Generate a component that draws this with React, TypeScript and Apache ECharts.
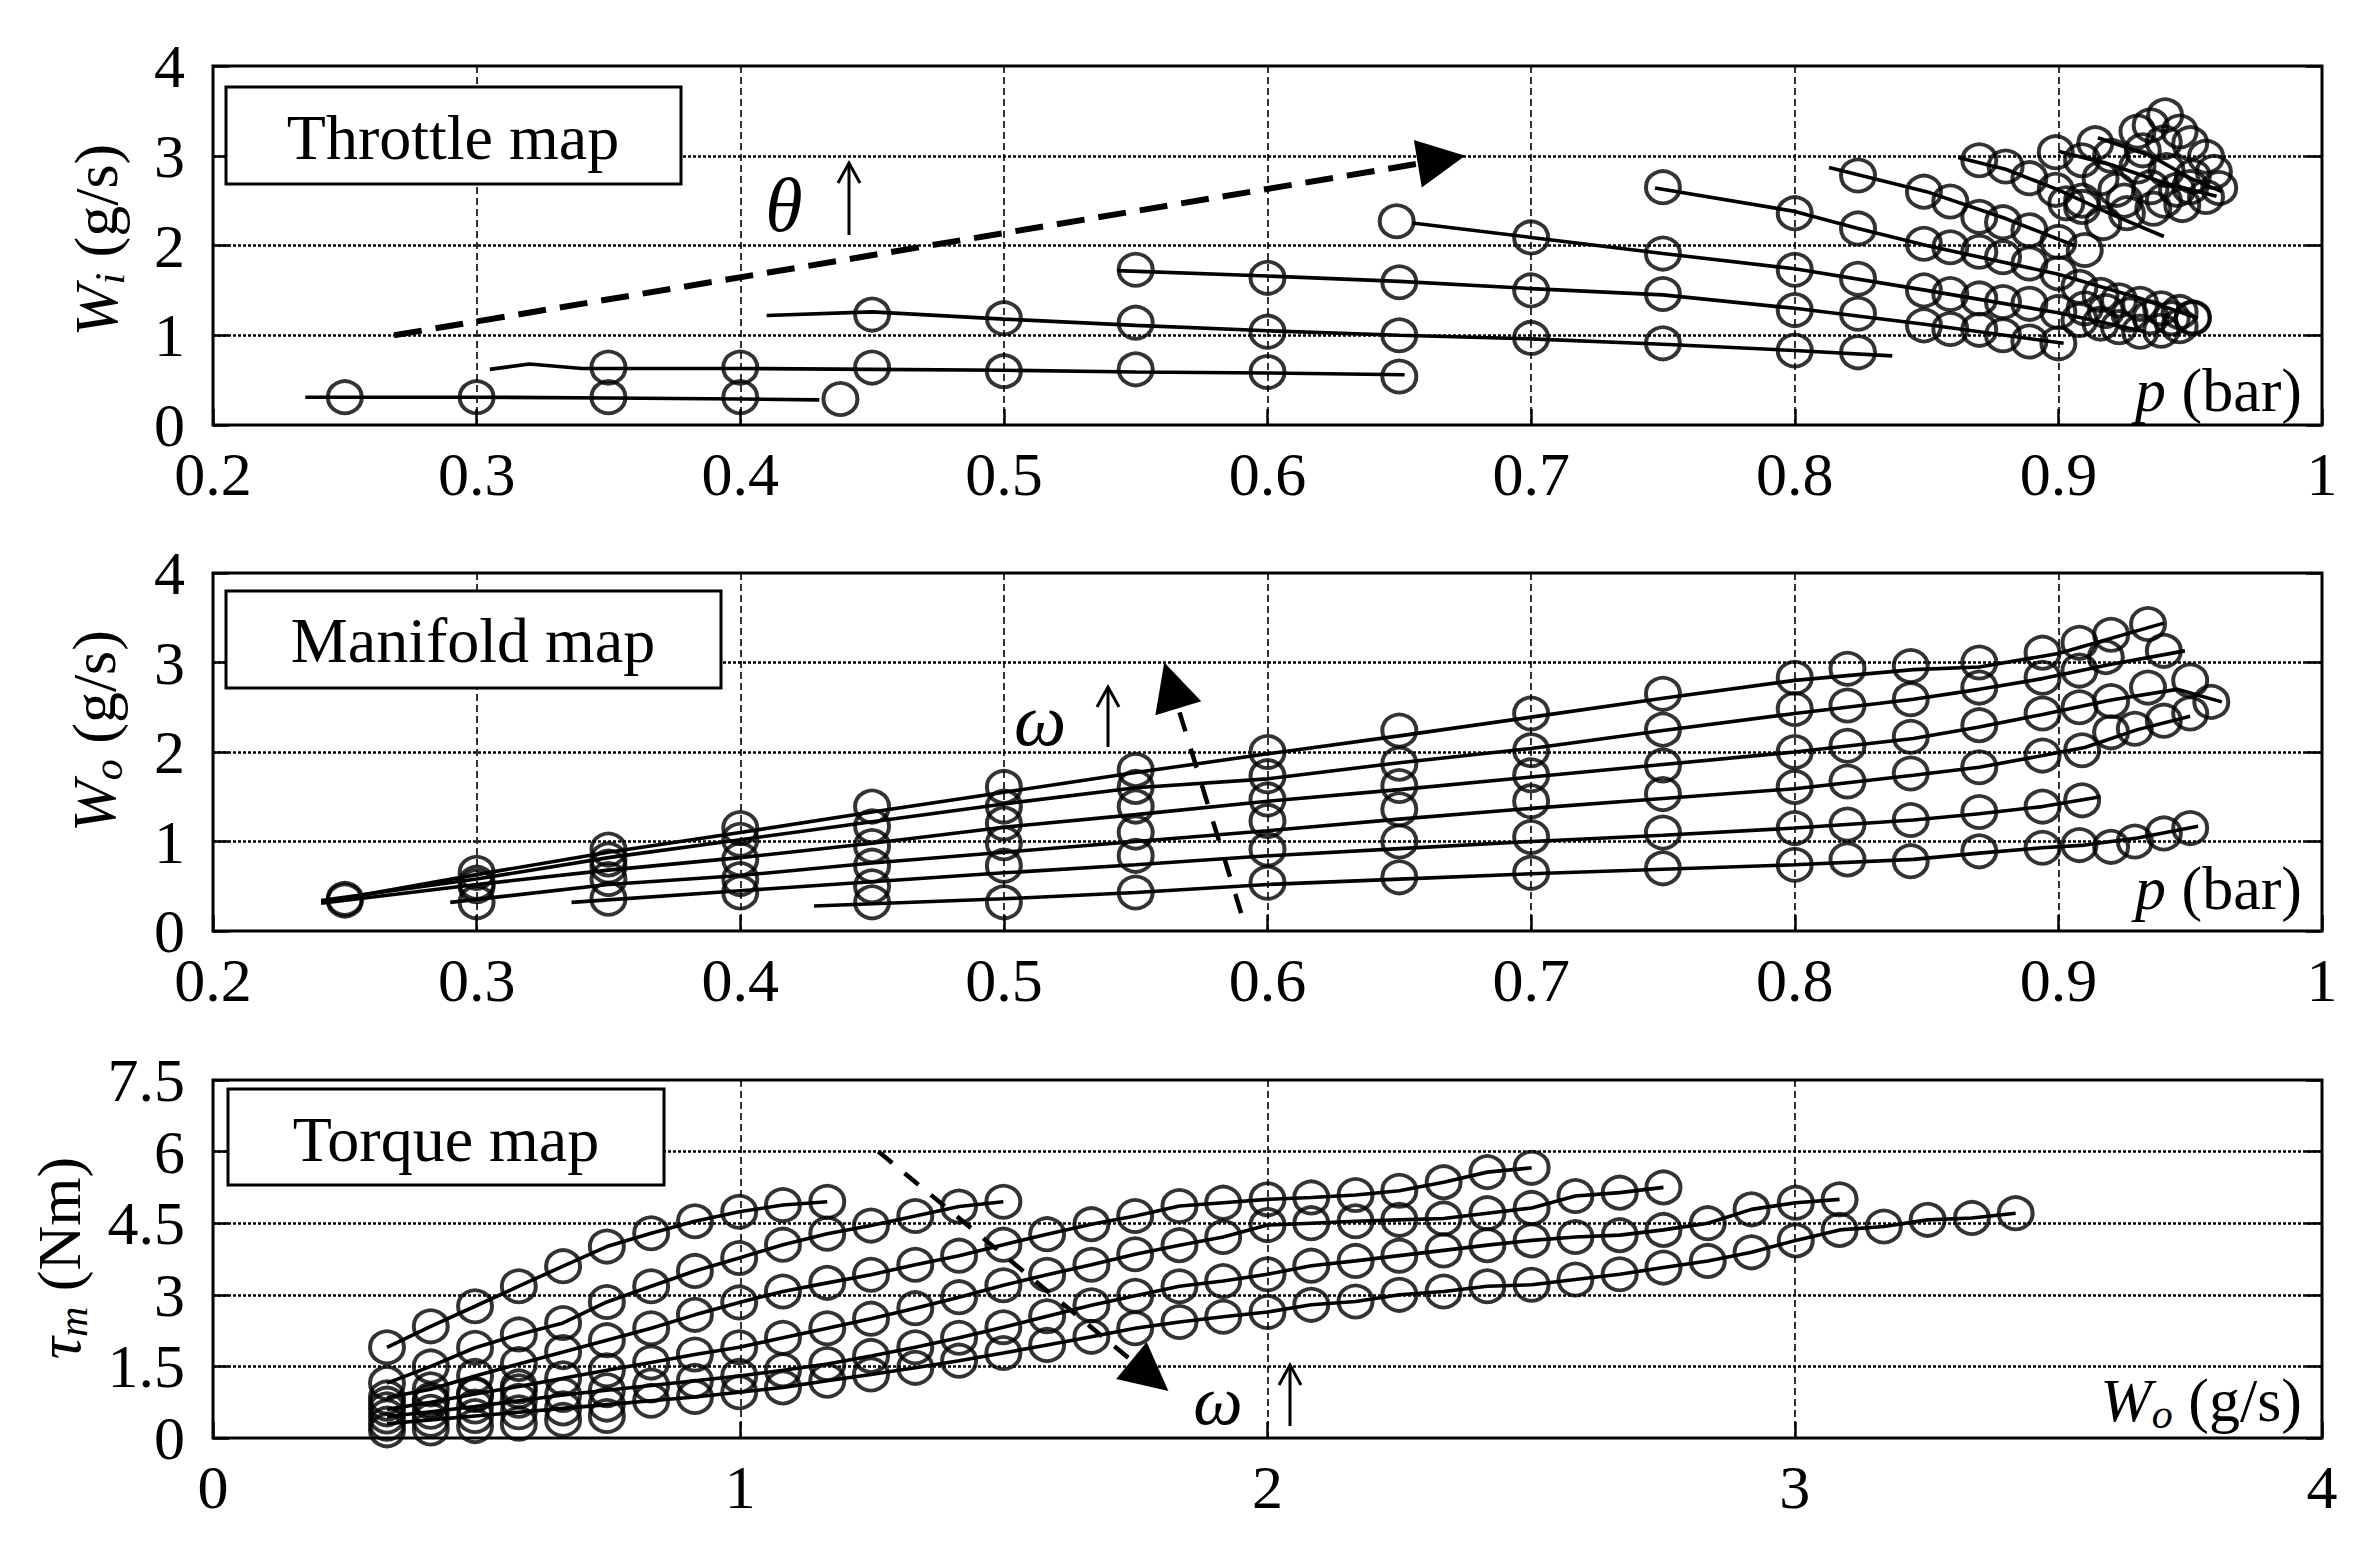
import React, { useEffect, useRef } from "react";
import * as echarts from "echarts";

const FONT = "'Liberation Serif', 'Times New Roman', serif";

// ---------------- Panel 1: Throttle map (p [bar] vs Wi [g/s]) ----------------
const thr1Line = [[0.235, 0.31], [0.30, 0.31], [0.35, 0.30], [0.40, 0.29], [0.43, 0.28]];
const thr1Pts = [[0.25, 0.31], [0.30, 0.31], [0.35, 0.31], [0.40, 0.31], [0.438, 0.29]];
const thr2Line = [[0.305, 0.62], [0.32, 0.68], [0.34, 0.63], [0.40, 0.63], [0.45, 0.62], [0.50, 0.61], [0.55, 0.59], [0.60, 0.58], [0.652, 0.56]];
const thr2Pts = [[0.35, 0.64], [0.40, 0.64], [0.45, 0.64], [0.50, 0.60], [0.55, 0.62], [0.60, 0.59], [0.65, 0.54]];
const thr3Line = [[0.41, 1.22], [0.45, 1.26], [0.50, 1.18], [0.55, 1.11], [0.60, 1.05], [0.65, 1.00], [0.70, 0.96], [0.75, 0.90], [0.80, 0.83], [0.837, 0.77]];
const thr3Pts = [[0.45, 1.23], [0.50, 1.19], [0.55, 1.14], [0.60, 1.04], [0.65, 1.00], [0.70, 0.97], [0.75, 0.91], [0.80, 0.83], [0.824, 0.81]];
const thr4Line = [[0.543, 1.72], [0.60, 1.66], [0.65, 1.60], [0.70, 1.52], [0.75, 1.45], [0.80, 1.30], [0.85, 1.12], [0.902, 0.91]];
const thr4Pts = [[0.55, 1.73], [0.60, 1.64], [0.65, 1.59], [0.70, 1.50], [0.75, 1.46], [0.80, 1.28], [0.824, 1.24], [0.849, 1.11], [0.859, 1.07], [0.87, 1.06], [0.879, 1.00], [0.889, 0.93], [0.90, 0.91]];
const thr5Line = [[0.655, 2.25], [0.70, 2.09], [0.75, 1.91], [0.80, 1.74], [0.85, 1.50], [0.90, 1.25], [0.933, 1.04]];
const thr5Pts = [[0.649, 2.27], [0.70, 2.09], [0.75, 1.91], [0.80, 1.73], [0.824, 1.63], [0.849, 1.50], [0.859, 1.46], [0.87, 1.41], [0.879, 1.37], [0.889, 1.35], [0.90, 1.26], [0.908, 1.17], [0.916, 1.13], [0.923, 1.09], [0.931, 1.04]];
const thr6Line = [[0.747, 2.64], [0.80, 2.38], [0.824, 2.19], [0.85, 2.00], [0.90, 1.68], [0.93, 1.42], [0.953, 1.19]];
const thr6Pts = [[0.75, 2.65], [0.80, 2.36], [0.824, 2.19], [0.849, 2.02], [0.859, 1.98], [0.87, 1.93], [0.879, 1.87], [0.889, 1.80], [0.90, 1.69], [0.908, 1.54], [0.916, 1.45], [0.923, 1.39], [0.931, 1.35], [0.939, 1.30], [0.946, 1.26], [0.951, 1.19]];
const thr7Line = [[0.813, 2.87], [0.85, 2.60], [0.88, 2.30], [0.906, 2.00]];
const thr7Pts = [[0.824, 2.78], [0.849, 2.60], [0.859, 2.49], [0.87, 2.32], [0.879, 2.26], [0.889, 2.17], [0.90, 2.04], [0.91, 1.95]];
const thr8Line = [[0.862, 2.98], [0.88, 2.85], [0.90, 2.62], [0.92, 2.35], [0.94, 2.10]];
const thr8Pts = [[0.87, 2.95], [0.88, 2.88], [0.889, 2.75], [0.899, 2.62], [0.909, 2.50], [0.917, 2.25], [0.926, 2.36]];
const thr9Line = [[0.90, 3.05], [0.92, 2.90], [0.94, 2.70], [0.96, 2.55]];
const thr10Line = [[0.915, 3.20], [0.935, 3.00], [0.95, 2.75], [0.962, 2.60]];
const thrHighPts = [[0.899, 3.04], [0.914, 3.14], [0.93, 3.27], [0.935, 3.34], [0.9405, 3.45], [0.946, 3.27], [0.95, 3.14], [0.956, 2.99], [0.959, 2.82], [0.961, 2.64], [0.956, 2.54], [0.947, 2.45], [0.936, 2.41], [0.909, 2.43], [0.903, 2.47], [0.916, 2.75], [0.93, 2.88], [0.941, 2.84], [0.951, 2.77], [0.922, 2.62], [0.935, 2.65], [0.945, 2.62], [0.909, 2.95], [0.92, 3.00], [0.932, 3.06], [0.94, 3.15], [0.925, 2.50], [0.94, 2.50], [0.95, 2.65]];
const thrLowPts = [[0.91, 1.30], [0.918, 1.27], [0.927, 1.23], [0.935, 1.20], [0.943, 1.19], [0.951, 1.20], [0.939, 1.05], [0.946, 1.10]];

// ---------------- Panel 2: Manifold map (p [bar] vs Wo [g/s]) ----------------
const manLineA = [[0.241, 0.32], [0.30, 0.63], [0.35, 0.88], [0.40, 1.10], [0.45, 1.33], [0.50, 1.55], [0.55, 1.77], [0.60, 1.98], [0.65, 2.18], [0.70, 2.39], [0.75, 2.60], [0.80, 2.80], [0.845, 2.92], [0.87, 2.95], [0.90, 3.10], [0.94, 3.44]];
const manPtsA = [[0.25, 0.36], [0.30, 0.65], [0.35, 0.91], [0.40, 1.15], [0.45, 1.39], [0.50, 1.61], [0.55, 1.80], [0.60, 2.00], [0.65, 2.24], [0.70, 2.43], [0.75, 2.65], [0.80, 2.83], [0.82, 2.93], [0.844, 2.96], [0.87, 3.00], [0.894, 3.11], [0.908, 3.22], [0.92, 3.31], [0.934, 3.43]];
const manLineB = [[0.241, 0.34], [0.30, 0.58], [0.35, 0.82], [0.40, 1.02], [0.45, 1.22], [0.50, 1.42], [0.55, 1.60], [0.60, 1.70], [0.65, 1.88], [0.70, 2.04], [0.75, 2.24], [0.80, 2.43], [0.845, 2.59], [0.87, 2.70], [0.894, 2.82], [0.92, 2.98], [0.948, 3.13]];
const manPtsB = [[0.25, 0.34], [0.30, 0.54], [0.35, 0.80], [0.40, 1.02], [0.45, 1.17], [0.50, 1.39], [0.55, 1.61], [0.60, 1.73], [0.65, 1.87], [0.70, 2.02], [0.75, 2.25], [0.80, 2.48], [0.82, 2.52], [0.844, 2.59], [0.87, 2.72], [0.894, 2.83], [0.908, 2.91], [0.918, 3.06], [0.94, 3.13]];
const manLineC = [[0.241, 0.31], [0.30, 0.52], [0.35, 0.68], [0.40, 0.82], [0.45, 0.98], [0.50, 1.16], [0.55, 1.30], [0.60, 1.45], [0.65, 1.58], [0.70, 1.72], [0.75, 1.86], [0.80, 2.00], [0.845, 2.15], [0.87, 2.28], [0.894, 2.42], [0.92, 2.58], [0.945, 2.70], [0.962, 2.56]];
const manPtsC = [[0.30, 0.50], [0.35, 0.72], [0.40, 0.80], [0.45, 0.95], [0.50, 1.20], [0.55, 1.39], [0.60, 1.47], [0.65, 1.62], [0.70, 1.74], [0.75, 1.85], [0.80, 2.00], [0.82, 2.07], [0.844, 2.17], [0.87, 2.30], [0.894, 2.43], [0.908, 2.50], [0.92, 2.57], [0.934, 2.72], [0.95, 2.80], [0.958, 2.56]];
const manLineD = [[0.29, 0.32], [0.35, 0.52], [0.40, 0.62], [0.45, 0.76], [0.50, 0.88], [0.55, 1.00], [0.60, 1.12], [0.65, 1.25], [0.70, 1.37], [0.75, 1.48], [0.80, 1.59], [0.845, 1.74], [0.87, 1.83], [0.894, 1.96], [0.91, 2.05], [0.93, 2.25], [0.95, 2.40]];
const manPtsD = [[0.35, 0.58], [0.40, 0.58], [0.45, 0.73], [0.50, 0.98], [0.55, 1.10], [0.60, 1.23], [0.65, 1.36], [0.70, 1.45], [0.75, 1.53], [0.80, 1.61], [0.82, 1.67], [0.844, 1.76], [0.87, 1.83], [0.894, 1.96], [0.909, 2.02], [0.92, 2.22], [0.929, 2.26], [0.94, 2.35], [0.95, 2.43]];
const manLineE = [[0.336, 0.32], [0.40, 0.45], [0.45, 0.55], [0.50, 0.65], [0.55, 0.74], [0.60, 0.84], [0.65, 0.92], [0.70, 1.00], [0.75, 1.07], [0.80, 1.15], [0.845, 1.24], [0.87, 1.31], [0.894, 1.39], [0.916, 1.50]];
const manPtsE = [[0.40, 0.43], [0.45, 0.50], [0.50, 0.73], [0.55, 0.84], [0.60, 0.91], [0.65, 1.00], [0.70, 1.05], [0.75, 1.10], [0.80, 1.15], [0.82, 1.19], [0.844, 1.24], [0.87, 1.33], [0.894, 1.39], [0.909, 1.46]];
const manLineF = [[0.428, 0.28], [0.50, 0.36], [0.55, 0.43], [0.60, 0.52], [0.65, 0.58], [0.70, 0.64], [0.75, 0.69], [0.80, 0.74], [0.845, 0.80], [0.87, 0.87], [0.894, 0.93], [0.91, 0.96], [0.93, 1.04], [0.953, 1.17]];
const manPtsF = [[0.30, 0.32], [0.35, 0.36], [0.45, 0.32], [0.50, 0.32], [0.55, 0.43], [0.60, 0.54], [0.65, 0.60], [0.70, 0.65], [0.75, 0.70], [0.80, 0.74], [0.82, 0.80], [0.844, 0.78], [0.87, 0.89], [0.894, 0.93], [0.908, 0.96], [0.92, 0.94], [0.929, 1.00], [0.94, 1.09], [0.95, 1.15]];

// ---------------- Panel 3: Torque map (Wo [g/s] vs tau_m [Nm]) ----------------
const torqueW = [0.33, 0.413, 0.497, 0.58, 0.664, 0.747, 0.831, 0.914, 0.998, 1.081, 1.165, 1.248, 1.332, 1.415, 1.499, 1.582, 1.666, 1.749, 1.833, 1.916, 2.0, 2.083, 2.167, 2.25, 2.334, 2.417, 2.501, 2.584, 2.668, 2.751, 2.835, 2.918, 3.002, 3.085, 3.169, 3.252, 3.336, 3.419];
const tq1 = [1.9, 2.34, 2.76, 3.18, 3.6, 4.01, 4.29, 4.54, 4.74, 4.88, 4.95];
const tq2 = [1.15, 1.5, 1.89, 2.17, 2.41, 2.85, 3.18, 3.5, 3.77, 4.05, 4.28, 4.45, 4.65, 4.85, 4.95];
const tq3 = [0.85, 1.02, 1.3, 1.55, 1.8, 2.05, 2.3, 2.58, 2.84, 3.07, 3.25, 3.42, 3.63, 3.82, 4.05, 4.27, 4.48, 4.65, 4.86, 4.93, 5.0, 5.04, 5.09, 5.18, 5.36, 5.57, 5.66];
const tq4 = [0.6, 0.75, 0.92, 1.08, 1.25, 1.42, 1.58, 1.75, 1.9, 2.1, 2.3, 2.5, 2.72, 2.95, 3.2, 3.42, 3.63, 3.85, 4.04, 4.21, 4.46, 4.5, 4.54, 4.57, 4.6, 4.71, 4.82, 5.07, 5.14, 5.25];
const tq5 = [0.45, 0.55, 0.66, 0.78, 0.9, 1.0, 1.1, 1.2, 1.3, 1.42, 1.55, 1.72, 1.9, 2.1, 2.32, 2.55, 2.78, 2.98, 3.18, 3.29, 3.43, 3.61, 3.71, 3.82, 3.93, 4.04, 4.14, 4.21, 4.25, 4.36, 4.5, 4.79, 4.93, 5.0];
const tq6 = [0.3, 0.38, 0.46, 0.54, 0.62, 0.7, 0.78, 0.86, 0.96, 1.06, 1.2, 1.33, 1.47, 1.62, 1.78, 1.95, 2.12, 2.3, 2.43, 2.54, 2.64, 2.79, 2.86, 3.0, 3.07, 3.18, 3.21, 3.32, 3.43, 3.57, 3.71, 3.89, 4.14, 4.36, 4.43, 4.57, 4.61, 4.71];
const tqLowPts = [[0.33, 0.16], [0.413, 0.2], [0.497, 0.25], [0.58, 0.3], [0.664, 0.38], [0.747, 0.46], [0.33, 0.72], [0.413, 0.8], [0.497, 0.9], [0.58, 0.98]];

// Dashed trend arrows (data coordinates)
const thetaArrow = [[0.2687, 1.0], [0.666, 2.955]];
const omegaArrow2 = [[0.59, 0.2], [0.5635, 2.745]];
const omegaArrow3 = [[1.262, 6.0], [1.777, 1.306]];

// Tick settings
const pTicks = { min: 0.2, max: 1, interval: 0.1 };
const wTicks = { min: 0, max: 4, interval: 1 };
const woTicks = { min: 0, max: 4, interval: 1 };
const tauTicks = { min: 0, max: 7.5, interval: 1.5 };

const GRIDS = [
  { left: 213, top: 66, width: 2109, height: 359 },
  { left: 213, top: 573, width: 2109, height: 358 },
  { left: 213, top: 1080, width: 2109, height: 358 },
];

const fmt = (v: number) => String(parseFloat(Number(v).toFixed(2)));
const LW = 3.6;

function xAxis(gi: number, t: any) {
  return {
    type: "value", gridIndex: gi, ...t,
    axisLine: { show: false },
    axisTick: { show: true, inside: true, length: 16, lineStyle: { color: "#000", width: 2.5 } },
    axisLabel: { fontFamily: FONT, fontSize: 62, color: "#000", margin: 18, formatter: fmt },
    splitLine: { show: true, showMinLine: false, showMaxLine: false, lineStyle: { color: "#000", width: 1.6, type: [7, 4] } },
  };
}
function yAxis(gi: number, t: any) {
  return {
    type: "value", gridIndex: gi, ...t,
    axisLine: { show: false },
    axisTick: { show: true, inside: true, length: 16, lineStyle: { color: "#000", width: 2.5 } },
    axisLabel: { fontFamily: FONT, fontSize: 62, color: "#000", margin: 28, formatter: fmt },
    splitLine: { show: true, showMinLine: false, showMaxLine: false, lineStyle: { color: "#000", width: 2.6, type: [3, 2] } },
  };
}
function yAxisRight(gi: number, t: any) {
  return {
    type: "value", gridIndex: gi, position: "right", ...t,
    axisLine: { show: false },
    axisTick: { show: true, inside: true, length: 16, lineStyle: { color: "#000", width: 2.5 } },
    axisLabel: { show: false },
    splitLine: { show: false },
  };
}

function lineSeries(data: number[][], gi: number, extra: any = {}) {
  return {
    type: "line", xAxisIndex: gi, yAxisIndex: gi, data, symbol: "none", showSymbol: false,
    lineStyle: { color: "#000", width: LW }, z: 3, silent: true, ...extra,
  };
}
function markerSeries(data: number[][], gi: number) {
  return {
    type: "scatter", xAxisIndex: gi, yAxisIndex: gi, data, symbol: "circle", symbolSize: [34, 32],
    itemStyle: { color: "rgba(0,0,0,0)", borderColor: "#000", borderWidth: 3.9 }, z: 4, silent: true,
  };
}
function arrowMark(seg: number[][], width: number, dash: number[]) {
  return {
    silent: true, symbol: ["none", "triangle"], symbolSize: 48, label: { show: false },
    lineStyle: { color: "#000", width, type: dash, opacity: 1 },
    itemStyle: { color: "#000" },
    emphasis: { disabled: true },
    data: [[{ coord: seg[0] }, { coord: seg[1] }]],
  };
}

const zip = (xs: number[], ys: number[]) => ys.map((y, i) => [xs[i], y]);

function upArrow(x: number, yTop: number, yBottom: number) {
  return [
    { type: "line", z: 110, shape: { x1: x, y1: yBottom, x2: x, y2: yTop }, style: { stroke: "#000", lineWidth: 3 } },
    { type: "polyline", z: 110, shape: { points: [[x - 11, yTop + 20], [x, yTop], [x + 11, yTop + 20]] }, style: { stroke: "#000", lineWidth: 3, fill: null } },
  ];
}
function box(x: number, y: number, w: number, h: number, label: string, cx: number, cy: number) {
  return [
    { type: "rect", z: 100, shape: { x, y, width: w, height: h }, style: { fill: "#fff", stroke: "#000", lineWidth: 3 } },
    { type: "text", z: 101, x: cx, y: cy, style: { text: label, fontFamily: FONT, fontSize: 64, fill: "#000", align: "center", verticalAlign: "middle" } },
  ];
}
const richBase = {
  it: { fontFamily: FONT, fontSize: 62, fontStyle: "italic", lineHeight: 70, fill: "#000" },
  sub: { fontFamily: FONT, fontSize: 42, fontStyle: "italic", lineHeight: 34, verticalAlign: "bottom", fill: "#000" },
  n: { fontFamily: FONT, fontSize: 62, lineHeight: 70, fill: "#000" },
};
function yName(x: number, y: number, main: string, sub: string, rest: string) {
  return {
    type: "text", z: 101, x, y, rotation: Math.PI / 2,
    style: { text: `{it|${main}}{sub|${sub}}{n| ${rest}}`, rich: richBase, align: "center", verticalAlign: "middle", fill: "#000" },
  };
}

export default function App() {
  const ref = useRef<HTMLDivElement>(null);
  useEffect(() => {
    if (!ref.current) return;
    const chart = echarts.init(ref.current, undefined, { renderer: "svg" });

    const series: any[] = [];
    // Panel 1
    const thrLines = [thr1Line, thr2Line, thr3Line, thr4Line, thr5Line, thr6Line, thr7Line, thr8Line, thr9Line, thr10Line];
    const thrPts = [thr1Pts, thr2Pts, thr3Pts, thr4Pts, thr5Pts, thr6Pts, thr7Pts, thr8Pts, thrHighPts, thrLowPts];
    thrLines.forEach((d, i) => series.push(lineSeries(d, 0, i === 0 ? { markLine: arrowMark(thetaArrow, 6, [28, 14]) } : {})));
    thrPts.forEach((d) => series.push(markerSeries(d, 0)));
    // Panel 2
    const manLines = [manLineA, manLineB, manLineC, manLineD, manLineE, manLineF];
    const manPts = [manPtsA, manPtsB, manPtsC, manPtsD, manPtsE, manPtsF];
    manLines.forEach((d, i) => series.push(lineSeries(d, 1, i === 0 ? { markLine: arrowMark(omegaArrow2, 4.5, [20, 18]) } : {})));
    manPts.forEach((d) => series.push(markerSeries(d, 1)));
    // Panel 3
    const tqs = [tq1, tq2, tq3, tq4, tq5, tq6];
    tqs.forEach((t, i) => {
      const d = zip(torqueW, t);
      series.push(lineSeries(d, 2, i === 0 ? { markLine: arrowMark(omegaArrow3, 4.5, [18, 16]) } : {}));
      series.push(markerSeries(d, 2));
    });
    series.push(markerSeries(tqLowPts, 2));

    const graphic: any[] = [
      ...box(226, 87, 455, 97, "Throttle map", 453, 137),
      ...box(226, 591, 495, 97, "Manifold map", 473, 640),
      ...box(228, 1089, 436, 96, "Torque map", 446, 1139),
      yName(96, 240, "W", "i", "(g/s)"),
      yName(94, 731, "W", "o", "(g/s)"),
      yName(59, 1258, "τ", "m", "(Nm)"),
      { type: "text", z: 101, x: 2302, y: 390, style: { text: "{it|p}{n| (bar)}", rich: richBase, align: "right", verticalAlign: "middle" } },
      { type: "text", z: 101, x: 2302, y: 888, style: { text: "{it|p}{n| (bar)}", rich: richBase, align: "right", verticalAlign: "middle" } },
      { type: "text", z: 101, x: 2302, y: 1400, style: { text: "{it|W}{sub|o}{n| (g/s)}", rich: richBase, align: "right", verticalAlign: "middle" } },
      { type: "text", z: 101, x: 784, y: 205, style: { text: "θ", fontFamily: FONT, fontSize: 76, fontStyle: "italic", fill: "#000", align: "center", verticalAlign: "middle" } },
      ...upArrow(849, 163, 235),
      { type: "text", z: 101, x: 1040, y: 720, style: { text: "ω", fontFamily: FONT, fontSize: 74, fontStyle: "italic", fill: "#000", align: "center", verticalAlign: "middle" } },
      ...upArrow(1108, 687, 747),
      { type: "text", z: 101, x: 1218, y: 1400, style: { text: "ω", fontFamily: FONT, fontSize: 70, fontStyle: "italic", fill: "#000", align: "center", verticalAlign: "middle" } },
      ...upArrow(1290, 1365, 1426),
    ];

    chart.setOption({
      animation: false,
      backgroundColor: "#fff",
      grid: GRIDS.map((g) => ({ ...g, show: true, borderColor: "#000", borderWidth: 3, backgroundColor: "rgba(0,0,0,0)", containLabel: false })),
      xAxis: [xAxis(0, pTicks), xAxis(1, pTicks), xAxis(2, woTicks)],
      yAxis: [yAxis(0, wTicks), yAxis(1, wTicks), yAxis(2, tauTicks), yAxisRight(0, wTicks), yAxisRight(1, wTicks), yAxisRight(2, tauTicks)],
      series,
      graphic: { elements: graphic },
    });
    return () => chart.dispose();
  }, []);
  return <div ref={ref} style={{ position: "absolute", left: 0, top: 0, width: 2368, height: 1564, background: "#fff" }} />;
}
